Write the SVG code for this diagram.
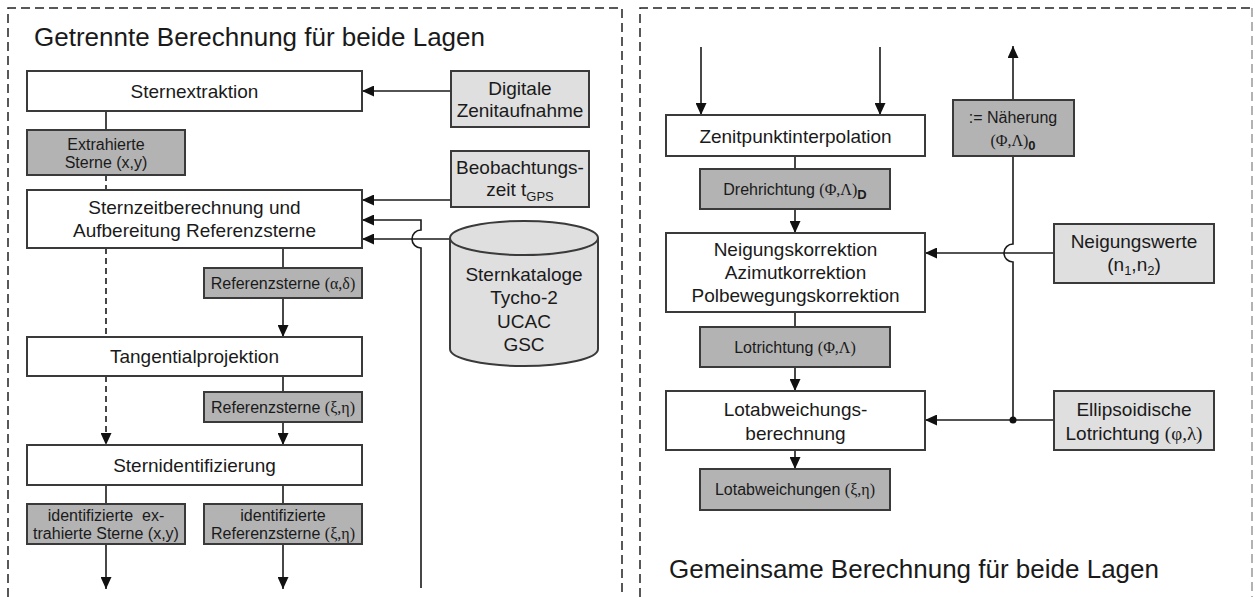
<svg xmlns="http://www.w3.org/2000/svg" width="1255" height="597" viewBox="0 0 1255 597">
<defs>
<marker id="ah" viewBox="0 0 12 11" refX="12" refY="5.5" markerWidth="12" markerHeight="11" orient="auto" markerUnits="userSpaceOnUse"><path d="M0,0 L12,5.5 L0,11 z" fill="#111"/></marker>
<style>
.wb{fill:#fff;stroke:#3a3a3a;stroke-width:2}
.dk{fill:#b3b3b3;stroke:#3a3a3a;stroke-width:2}
.lt{fill:#dfdfdf;stroke:#3a3a3a;stroke-width:2}
text{font-family:"Liberation Sans",Arial,sans-serif;fill:#1a1a1a}
.t{font-size:19px;text-anchor:middle}
.s{font-size:16px;text-anchor:middle}
.h{font-size:26px}
.g{font-family:"Liberation Serif","Times New Roman",serif}
.ln{stroke:#1a1a1a;stroke-width:1.6;fill:none}
.ar{stroke:#1a1a1a;stroke-width:1.6;fill:none;marker-end:url(#ah)}
.da{stroke-dasharray:6,4}
.fr{fill:none;stroke:#222;stroke-width:1.5;stroke-dasharray:9,5}
</style>
</defs>
<g id="frames">
<path class="fr" d="M8,597 V8 H622 V597"/>
<path class="fr" d="M640,597 V8 H1252"/>
<path class="fr" style="stroke:#999" d="M1252,8 V597"/>
</g>
<g id="titles">
<text class="h" x="34" y="46">Getrennte Berechnung für beide Lagen</text>
<text class="h" x="669" y="578">Gemeinsame Berechnung für beide Lagen</text>
</g>
<g id="connectors">
<line class="ln" x1="106" y1="111" x2="106" y2="130"/>
<line class="ln da" x1="106" y1="175" x2="106" y2="190"/>
<line class="ln da" x1="106" y1="248" x2="106" y2="337"/>
<line class="ar da" x1="106" y1="376" x2="106" y2="445"/>
<line class="ar" x1="451" y1="91" x2="362" y2="91"/>
<line class="ar" x1="451" y1="200" x2="362" y2="200"/>
<path class="ar" d="M421,588 V248 A9,9 0 0 1 421,230 V220 H362"/>
<line class="ar" x1="450" y1="239" x2="362" y2="239"/>
<line class="ln" x1="283" y1="248" x2="283" y2="268"/>
<line class="ar" x1="283" y1="298" x2="283" y2="337"/>
<line class="ln" x1="283" y1="376" x2="283" y2="392"/>
<line class="ar" x1="283" y1="422" x2="283" y2="445"/>
<line class="ln" x1="106" y1="485" x2="106" y2="504"/>
<line class="ln" x1="283" y1="485" x2="283" y2="504"/>
<line class="ar" x1="106" y1="544" x2="106" y2="589"/>
<line class="ar" x1="283" y1="544" x2="283" y2="589"/>
<line class="ar" x1="701" y1="47" x2="701" y2="115"/>
<line class="ar" x1="880" y1="47" x2="880" y2="115"/>
<line class="ln" x1="795" y1="156" x2="795" y2="169"/>
<line class="ar" x1="795" y1="209" x2="795" y2="233"/>
<line class="ln" x1="795" y1="312" x2="795" y2="327"/>
<line class="ar" x1="795" y1="367" x2="795" y2="391"/>
<line class="ar" x1="795" y1="450" x2="795" y2="469"/>
<line class="ar" x1="1013" y1="100" x2="1013" y2="46"/>
<path class="ln" d="M1013,420 V262 A9,9 0 0 1 1013,244 V156"/>
<line class="ar" x1="1054" y1="253" x2="925" y2="253"/>
<line class="ar" x1="1054" y1="420" x2="925" y2="420"/>
<circle cx="1013" cy="420" r="3.5" fill="#111"/>
</g>
<g id="n-sternextraktion"><rect class="wb" x="27" y="71" width="335" height="40"/><text class="t" x="194.5" y="98">Sternextraktion</text></g>
<g id="n-digitale"><rect class="lt" x="451" y="71" width="138" height="56"/><text class="t" x="520" y="95">Digitale</text><text class="t" x="520" y="117">Zenitaufnahme</text></g>
<g id="n-extrahierte"><rect class="dk" x="27" y="130" width="158" height="45"/><text class="s" x="106" y="150">Extrahierte</text><text class="s" x="106" y="168">Sterne (x,y)</text></g>
<g id="n-beobachtung"><rect class="lt" x="451" y="151" width="138" height="56"/><text class="t" x="520" y="174">Beobachtungs-</text><text class="t" x="520" y="196">zeit t<tspan font-size="13" dy="5">GPS</tspan></text></g>
<g id="n-sternzeit"><rect class="wb" x="27" y="190" width="335" height="58"/><text class="t" x="194.5" y="214">Sternzeitberechnung und</text><text class="t" x="194.5" y="237">Aufbereitung Referenzsterne</text></g>
<g id="n-katalog"><path class="lt" d="M450,238 V349 A74,17 0 0 0 598,349 V238"/><ellipse class="lt" cx="524" cy="238" rx="74" ry="17"/><text class="t" x="524" y="281">Sternkataloge</text><text class="t" x="524" y="304">Tycho-2</text><text class="t" x="524" y="328">UCAC</text><text class="t" x="524" y="351">GSC</text></g>
<g id="n-refad"><rect class="dk" x="204" y="268" width="158" height="30"/><text class="s" x="283" y="289">Referenzsterne <tspan class="g">(α,δ)</tspan></text></g>
<g id="n-tangential"><rect class="wb" x="27" y="337" width="335" height="39"/><text class="t" x="194.5" y="363">Tangentialprojektion</text></g>
<g id="n-refxe"><rect class="dk" x="204" y="392" width="158" height="30"/><text class="s" x="283" y="413">Referenzsterne <tspan class="g">(ξ,η)</tspan></text></g>
<g id="n-sternident"><rect class="wb" x="27" y="445" width="335" height="40"/><text class="t" x="194.5" y="472">Sternidentifizierung</text></g>
<g id="n-idext"><rect class="dk" x="27" y="504" width="158" height="40"/><text class="s" x="106" y="521" xml:space="preserve">identifizierte  ex-</text><text class="s" x="106" y="539">trahierte Sterne (x,y)</text></g>
<g id="n-idref"><rect class="dk" x="204" y="504" width="158" height="40"/><text class="s" x="283" y="521">identifizierte</text><text class="s" x="283" y="539">Referenzsterne <tspan class="g">(ξ,η)</tspan></text></g>
<g id="n-zenitpunkt"><rect class="wb" x="666" y="115" width="259" height="41"/><text class="t" x="795.5" y="143">Zenitpunktinterpolation</text></g>
<g id="n-dreh"><rect class="dk" x="700" y="169" width="190" height="40"/><text class="s" x="795" y="195">Drehrichtung <tspan class="g">(Φ,Λ)</tspan><tspan font-weight="bold" font-size="13" dy="4">D</tspan></text></g>
<g id="n-naeherung"><rect class="dk" x="953" y="100" width="121" height="56"/><text class="s" x="1013" y="123">:= Näherung</text><text class="s" x="1013" y="146"><tspan class="g">(Φ,Λ)</tspan><tspan font-weight="bold" font-size="13" dy="4">0</tspan></text></g>
<g id="n-neigung"><rect class="wb" x="666" y="233" width="259" height="79"/><text class="t" x="795.5" y="256">Neigungskorrektion</text><text class="t" x="795.5" y="279">Azimutkorrektion</text><text class="t" x="795.5" y="302">Polbewegungskorrektion</text></g>
<g id="n-neigungswerte"><rect class="lt" x="1054" y="224" width="160" height="59"/><text class="t" x="1134" y="248">Neigungswerte</text><text class="t" x="1134" y="271">(n<tspan font-size="13" dy="4">1</tspan><tspan dy="-4">,n</tspan><tspan font-size="13" dy="4">2</tspan><tspan dy="-4">)</tspan></text></g>
<g id="n-lotrichtung"><rect class="dk" x="700" y="327" width="190" height="40"/><text class="s" x="795" y="353">Lotrichtung <tspan class="g">(Φ,Λ)</tspan></text></g>
<g id="n-lotabw"><rect class="wb" x="666" y="391" width="259" height="59"/><text class="t" x="795.5" y="416">Lotabweichungs-</text><text class="t" x="795.5" y="440">berechnung</text></g>
<g id="n-ellipsoid"><rect class="lt" x="1054" y="391" width="160" height="59"/><text class="t" x="1134" y="416">Ellipsoidische</text><text class="t" x="1134" y="440">Lotrichtung <tspan class="g">(φ,λ)</tspan></text></g>
<g id="n-lotabweichungen"><rect class="dk" x="700" y="469" width="190" height="41"/><text class="s" x="795" y="495">Lotabweichungen <tspan class="g">(ξ,η)</tspan></text></g>
</svg>
